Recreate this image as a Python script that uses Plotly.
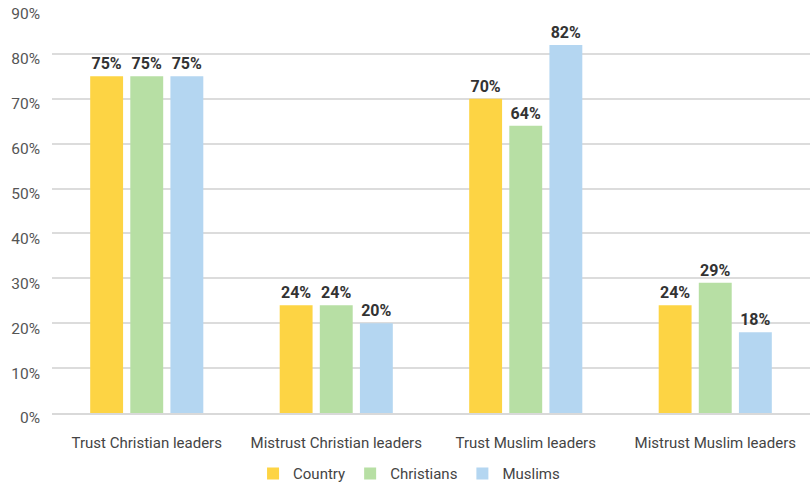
import plotly.graph_objects as go

categories = ["Trust Christian leaders", "Mistrust Christian leaders",
              "Trust Muslim leaders", "Mistrust Muslim leaders"]
country = [75, 24, 70, 24]
christians = [75, 24, 64, 29]
muslims = [75, 20, 82, 18]
y_ticks = [0, 10, 20, 30, 40, 50, 60, 70, 80, 90]

series = [
    ("Country", country, "#FDD444"),
    ("Christians", christians, "#B7DFA4"),
    ("Muslims", muslims, "#B4D6F1"),
]

fig = go.Figure()
for name, vals, color in series:
    fig.add_trace(go.Bar(
        x=categories, y=vals, name=name,
        marker=dict(color=color, line=dict(width=0)),
        text=[f"{v}%" for v in vals],
        textposition="outside",
        textfont=dict(family="Roboto", size=16, color="#333333", weight="bold"),
        cliponaxis=False,
    ))

fig.update_layout(
    width=810, height=486,
    margin=dict(l=52, r=0, t=9, b=73, autoexpand=False),
    paper_bgcolor="white", plot_bgcolor="white",
    barmode="group", bargap=0.365, bargroupgap=0.18,
    font=dict(family="Roboto", color="#444444"),
    legend=dict(orientation="h", xref="container", x=0.505, xanchor="center",
                yref="container", y=0.025, yanchor="middle",
                font=dict(size=15, color="#444444"), itemwidth=30,
                traceorder="normal"),
)
fig.update_xaxes(
    tickfont=dict(size=15, color="#444444"),
    showline=True, linecolor="#d9d9d9", linewidth=2,
    ticks="", ticklabelstandoff=15, automargin=False,
)
fig.update_yaxes(
    range=[0, 90], tickvals=y_ticks, ticktext=[f"{t}%" for t in y_ticks],
    tickfont=dict(size=15.5, color="#555555"),
    showgrid=True, gridcolor="#dcdcdc", gridwidth=2,
    zeroline=False, ticks="", ticklabelstandoff=11, ticklabelshift=5,
    automargin=False,
)

fig.write_html("out.html")
